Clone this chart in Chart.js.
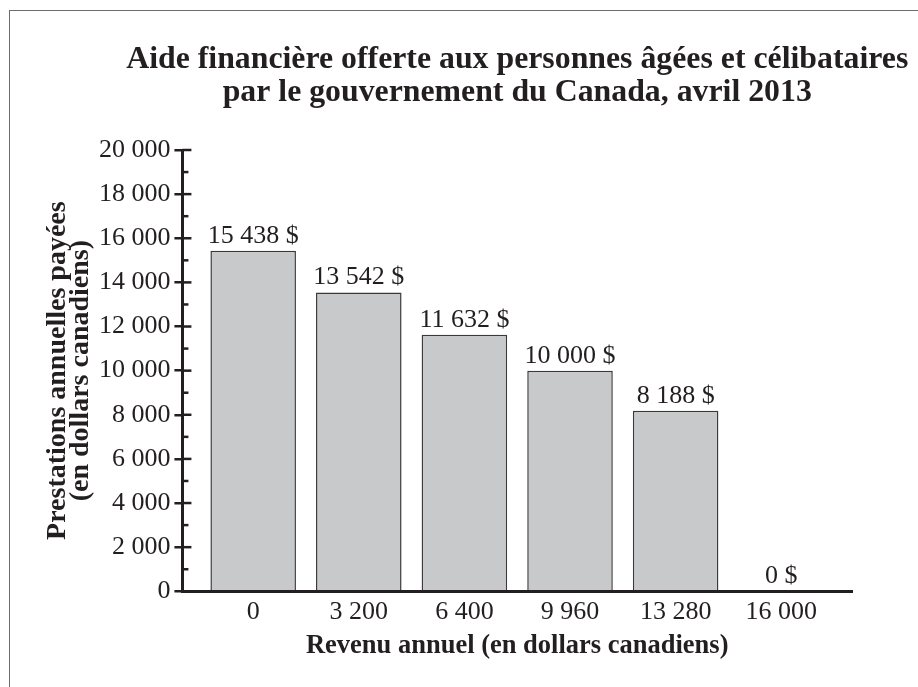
<!DOCTYPE html>
<html lang="fr">
<head>
<meta charset="utf-8">
<title>Aide financière</title>
<script src="https://cdn.jsdelivr.net/npm/chart.js@4.4.1/dist/chart.umd.min.js"></script>
<style>
    html, body { margin: 0; padding: 0; background: #fff; }
    #wrap { position: relative; width: 918px; height: 687px; }
    #frame {
        position: absolute; left: 9px; top: 10px; right: -2px; bottom: -2px;
        border-left: 1.5px solid #6d6d6d; border-top: 1.5px solid #6d6d6d;
        pointer-events: none;
    }
</style>
</head>
<body>
<div id="wrap">
    <canvas id="aideChart" width="918" height="687"></canvas>
    <div id="frame"></div>
</div>
<script>
// Chart data
const revenus = ['0', '3 200', '6 400', '9 960', '13 280', '16 000'];
const prestations = [15438, 13542, 11632, 10000, 8188, 0];
const yTicks = [0, 2000, 4000, 6000, 8000, 10000, 12000, 14000, 16000, 18000, 20000];
const titre = ['Aide financière offerte aux personnes âgées et célibataires',
               'par le gouvernement du Canada, avril 2013'];

const INK = '#231f20';
const SERIF = '"Liberation Serif", "Times New Roman", serif';

function formatNombre(n) {
    return String(n).replace(/\B(?=(\d{3})+(?!\d))/g, ' ');
}

// Title, centred over the plot area (the built-in title squeezes it)
const chartTitle = {
    id: 'chartTitle',
    afterDraw(chart) {
        const ctx = chart.ctx;
        const cx = (chart.chartArea.left + chart.chartArea.right) / 2;
        ctx.save();
        ctx.fillStyle = INK;
        ctx.font = 'bold 31.8px ' + SERIF;
        ctx.textAlign = 'center';
        ctx.textBaseline = 'alphabetic';
        ctx.fillText(titre[0], cx, 68);
        ctx.fillText(titre[1], cx, 101);
        ctx.restore();
    }
};

// Ticks on the inner side of the y axis (major + minor)
const innerTicks = {
    id: 'innerTicks',
    afterDraw(chart) {
        const y = chart.scales.y;
        const left = chart.chartArea.left;
        const ctx = chart.ctx;
        ctx.save();
        ctx.strokeStyle = INK;
        ctx.lineWidth = 2.5;
        for (let v = 0; v <= 20000; v += 1000) {
            const py = y.getPixelForValue(v);
            const len = v % 2000 === 0 ? 9 : 6;
            ctx.beginPath();
            ctx.moveTo(left, py);
            ctx.lineTo(left + len, py);
            ctx.stroke();
        }
        ctx.restore();
    }
};

// Values written above each bar
const barLabels = {
    id: 'barLabels',
    afterDatasetsDraw(chart) {
        const ctx = chart.ctx;
        const meta = chart.getDatasetMeta(0);
        ctx.save();
        ctx.fillStyle = INK;
        ctx.font = '26px ' + SERIF;
        ctx.textAlign = 'center';
        ctx.textBaseline = 'alphabetic';
        meta.data.forEach((bar, i) => {
            ctx.fillText(formatNombre(prestations[i]) + ' $', bar.x, bar.y - 8);
        });
        ctx.restore();
    }
};

const ctx = document.getElementById('aideChart').getContext('2d');
const aideChart = new Chart(ctx, {
    type: 'bar',
    data: {
        datasets: [{
            data: prestations.map((v, i) => ({ x: i, y: v })),
            backgroundColor: '#c8c9cb',
            borderColor: '#3a3a3a',
            borderWidth: 1.5,
            borderSkipped: 'bottom',
            barPercentage: 0.81,
            categoryPercentage: 1
        }]
    },
    options: {
        responsive: false,
        animation: false,
        layout: { padding: { left: 46, right: 66, top: 150, bottom: 28 } },
        plugins: {
            legend: { display: false },
            tooltip: { enabled: false },
            title: { display: false }
        },
        scales: {
            x: {
                type: 'linear',
                offset: false,
                min: -0.67,
                max: 5.67,
                grid: { display: false, drawTicks: false },
                border: { display: true, color: INK, width: 3 },
                afterBuildTicks: axis => {
                    axis.ticks = revenus.map((_, i) => ({ value: i }));
                },
                ticks: {
                    color: INK,
                    font: { family: SERIF, size: 26 },
                    padding: 5,
                    maxRotation: 0,
                    autoSkip: false,
                    callback: value => revenus[value]
                },
                title: {
                    display: true,
                    text: 'Revenu annuel (en dollars canadiens)',
                    color: INK,
                    font: { family: SERIF, size: 26.5, weight: 'bold', lineHeight: 1.0 },
                    padding: { top: 0, bottom: 0 }
                }
            },
            y: {
                min: 0,
                max: 20000,
                afterBuildTicks: axis => {
                    const all = [];
                    for (let v = 0; v <= 20000; v += 1000) all.push({ value: v });
                    axis.ticks = all;
                },
                grid: {
                    drawOnChartArea: false,
                    drawTicks: true,
                    tickLength: 8,
                    lineWidth: 2.5,
                    color: c => (c.tick && yTicks.includes(c.tick.value)) ? INK : 'rgba(0,0,0,0)'
                },
                border: { display: true, color: INK, width: 3 },
                ticks: {
                    color: INK,
                    font: { family: SERIF, size: 26 },
                    padding: 4,
                    autoSkip: false,
                    callback: value => yTicks.includes(value) ? formatNombre(value) : ''
                },
                title: {
                    display: true,
                    text: ['Prestations annuelles payées', '(en dollars canadiens)'],
                    color: INK,
                    font: { family: SERIF, size: 28, weight: 'bold', lineHeight: 0.82 },
                    padding: { top: 0, bottom: 3 }
                }
            }
        }
    },
    plugins: [chartTitle, innerTicks, barLabels]
});
</script>
</body>
</html>
